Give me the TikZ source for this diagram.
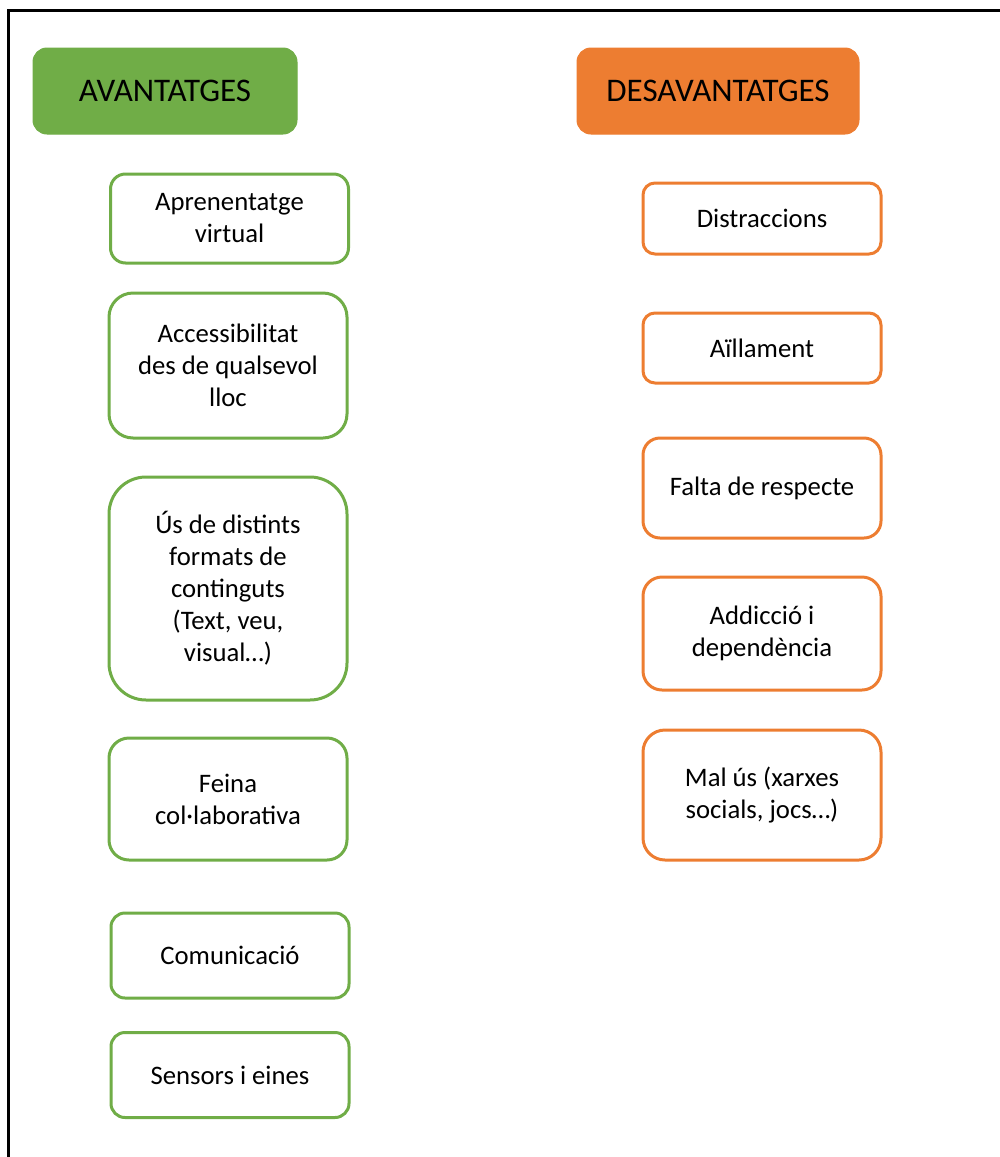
\documentclass[tikz,border=0pt]{standalone}
\usepackage{fontspec}
\setmainfont{Carlito}
\definecolor{vgreen}{HTML}{70AD47}
\definecolor{vorange}{HTML}{ED7D31}
\begin{document}
\begin{tikzpicture}[x=1pt,y=-1pt,
  head/.style={fill=#1, draw=#1, line width=1pt, inner sep=0pt, align=center,
    font=\fontsize{33}{40}\selectfont, minimum height=86pt},
  itembox/.style={draw=#1, line width=3pt, fill=white, inner sep=0pt, align=center,
    font=\fontsize{26.7}{32}\selectfont, minimum width=238pt}]
\useasboundingbox (0,0) rectangle (999,1157);
\draw[line width=3pt] (8,10) rectangle (1040,1200);
% headers
\node[head=vgreen, minimum width=264pt, rounded corners=14pt] (hA) at (165,91) {AVANTATGES};
\node[head=vorange, minimum width=282pt, rounded corners=14pt] (hD) at (718,91) {DESAVANTATGES};
% left column
\node[itembox=vgreen, minimum height=89pt, rounded corners=15pt] (a1) at (229.5,218.5) {Aprenentatge\\virtual};
\node[itembox=vgreen, minimum height=145pt, rounded corners=24pt] (a2) at (228,365.5) {Accessibilitat\\des de qualsevol\\lloc};
\node[itembox=vgreen, minimum height=223pt, rounded corners=37pt] (a3) at (228,588.5) {Ús de distints\\formats de\\continguts\\(Text, veu,\\visual…)};
\node[itembox=vgreen, minimum height=122pt, rounded corners=20pt] (a4) at (228,799) {Feina\\col·laborativa};
\node[itembox=vgreen, minimum height=85pt, rounded corners=14pt] (a5) at (230,955.5) {Comunicació};
\node[itembox=vgreen, minimum height=85pt, rounded corners=14pt] (a6) at (230,1075) {Sensors i eines};
% right column
\node[itembox=vorange, minimum height=71pt, rounded corners=12pt] (d1) at (762,218.5) {Distraccions};
\node[itembox=vorange, minimum height=70pt, rounded corners=12pt] (d2) at (762,348) {Aïllament};
\node[itembox=vorange, minimum height=100pt, rounded corners=17pt] (d3) at (762,488) {Falta de respecte};
\node[itembox=vorange, minimum height=113pt, rounded corners=19pt] (d4) at (762,633.5) {Addicció i\\dependència};
\node[itembox=vorange, minimum height=130pt, rounded corners=22pt] (d5) at (762,795) {Mal ús (xarxes\\socials, jocs…)};
\end{tikzpicture}
\end{document}
